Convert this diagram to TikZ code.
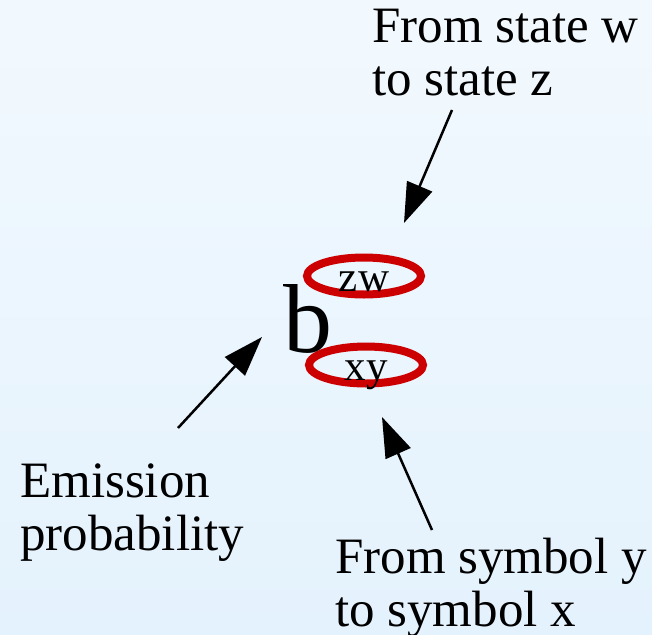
\documentclass[tikz,border=0pt]{standalone}
\usepackage{fontspec}
\setmainfont{Liberation Serif}
\usetikzlibrary{arrows.meta,shapes.geometric}
\definecolor{ringred}{RGB}{204,0,0}
\definecolor{bgtop}{RGB}{242,249,254}
\definecolor{bgbot}{RGB}{228,242,253}

\begin{document}
\begin{tikzpicture}[x=1pt, y=-1pt]
        \tikzstyle{note} = [align=left, inner sep=0pt, anchor=base west, font=\fontsize{51}{53}\selectfont]
        \tikzstyle{ring} = [ellipse, draw=ringred, line width=8pt, inner sep=0pt, minimum width=114pt, minimum height=37pt]
        \tikzstyle{index} = [inner sep=0pt, anchor=base, font=\fontsize{43}{43}\selectfont]
        \tikzstyle{pointer} = [-{Triangle[length=40pt, width=27pt]}, line width=2.5pt]

\shade[top color=bgtop, bottom color=bgbot] (0,0) rectangle (652,634);
        \useasboundingbox (0,0) rectangle (652,634);

\node[ring] (upper) at (364,276) {};
        \node[ring] (lower) at (366,365) {};
        \node[index] (zw) at (364,291) {zw};
        \node[index] (xy) at (366,380) {xy};
        \node[inner sep=0pt, anchor=base, font=\fontsize{98}{98}\selectfont] (b) at (308,352) {b};

% base anchor sits on the last line
        \node[note] (states) at (372,95) {From state w\\ to state z};
        \node[note] (emission) at (20,550) {Emission\\probability};
        \node[note] (symbols) at (335,626) {From symbol y\\ to symbol x};

\coordinate (statestail) at (452,110);
        \coordinate (stateshead) at (404,223);
        \coordinate (emissiontail) at (178,428);
        \coordinate (emissionhead) at (262,337);
        \coordinate (symbolstail) at (432,530);
        \coordinate (symbolshead) at (382,417);

\draw[pointer] (statestail) -- (stateshead);
        \draw[pointer] (emissiontail) -- (emissionhead);
        \draw[pointer] (symbolstail) -- (symbolshead);
    \end{tikzpicture}
\end{document}
